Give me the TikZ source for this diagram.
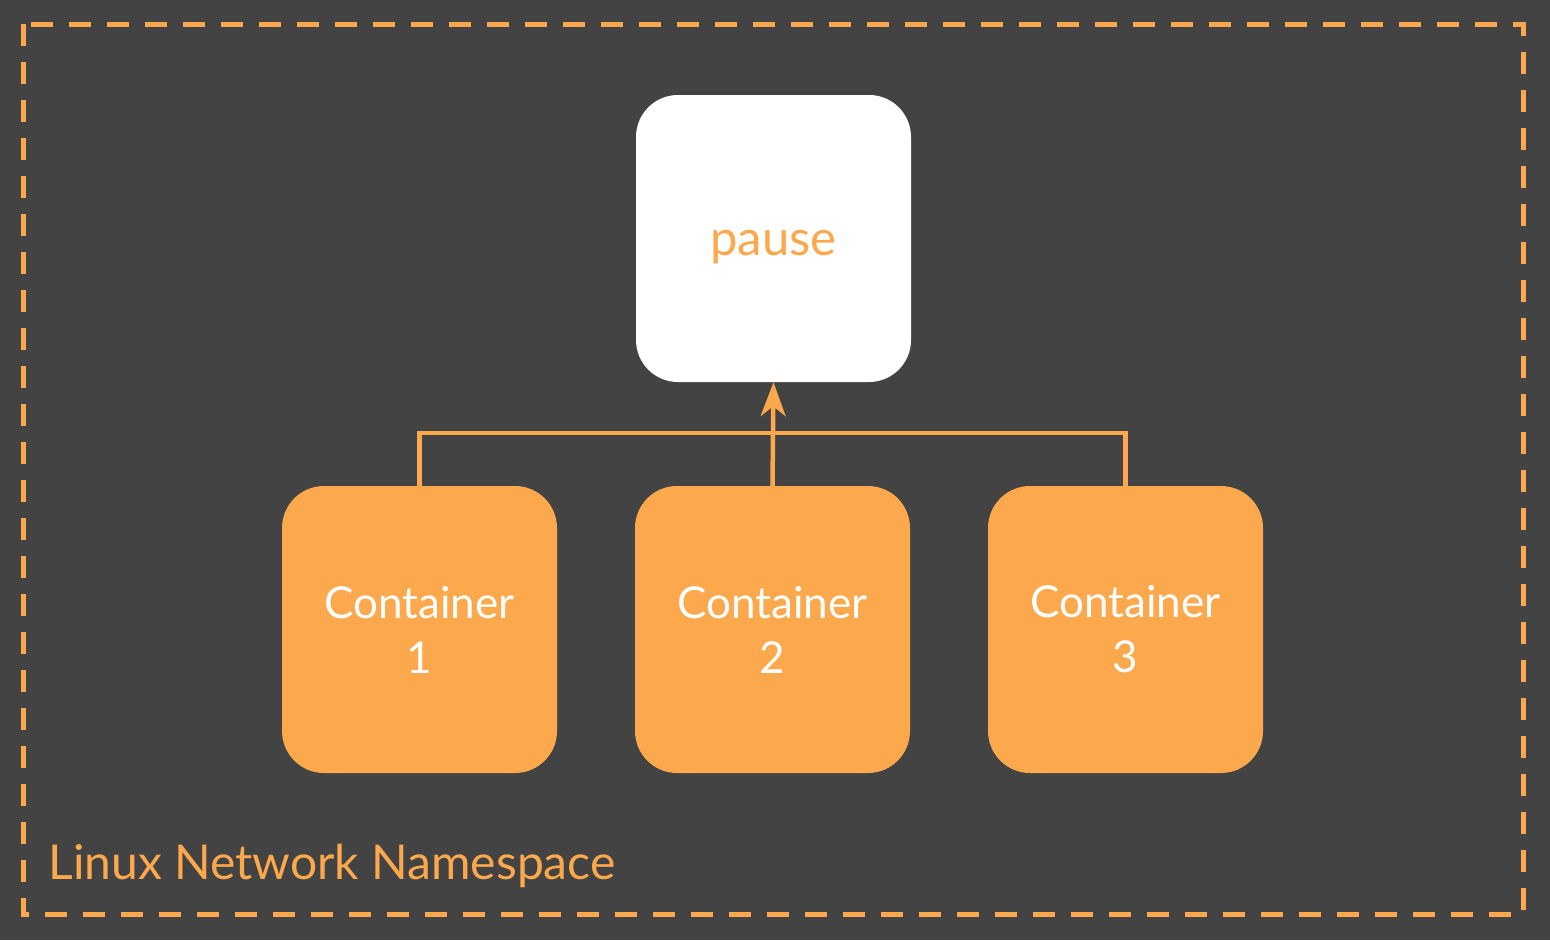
\documentclass[tikz,border=0pt]{standalone}
\usepackage{fontspec}
\setmainfont{Lato}
\usetikzlibrary{arrows.meta}
\definecolor{bg}{HTML}{434343}
\definecolor{org}{HTML}{FCA84C}
\tikzset{
  box/.style={rounded corners=42pt, minimum width=275pt, minimum height=287pt, inner sep=0pt, align=center},
  cbox/.style={box, fill=org, text=white, font=\fontsize{44}{55}\selectfont},
  link/.style={draw=org, line width=4.5pt},
}
\begin{document}
\begin{tikzpicture}[x=1pt,y=-1pt]
\useasboundingbox (0,0) rectangle (1550,940);
\fill[bg] (0,0) rectangle (1550,940);
\draw[org, line width=5pt, dash pattern=on 22pt off 16pt] (23,24) rectangle (1523,914);
\node[anchor=base west, text=org, font=\fontsize{48}{50}\selectfont] (lbl) at (45,879) {Linux Network Namespace};
\node[box, fill=white, text=org, font=\fontsize{49}{50}\selectfont] (pause) at (773.5,238.5) {\raisebox{-9pt}[\height][\depth]{pause}};
\node[cbox] (c1) at (419.5,629.5) {Container\\1};
\node[cbox] (c2) at (772.5,629.5) {Container\\2};
\node[cbox] (c3) at (1125.5,629.5) {Container\\3};
\coordinate (j) at (c2.north |- 0,433);
\draw[link] (c1.north) |- (j) -| (c3.north);
\draw[link, -{Stealth[length=34pt, width=25pt, inset=10pt]}] (c2.north) -- (pause.south);
\end{tikzpicture}
\end{document}
